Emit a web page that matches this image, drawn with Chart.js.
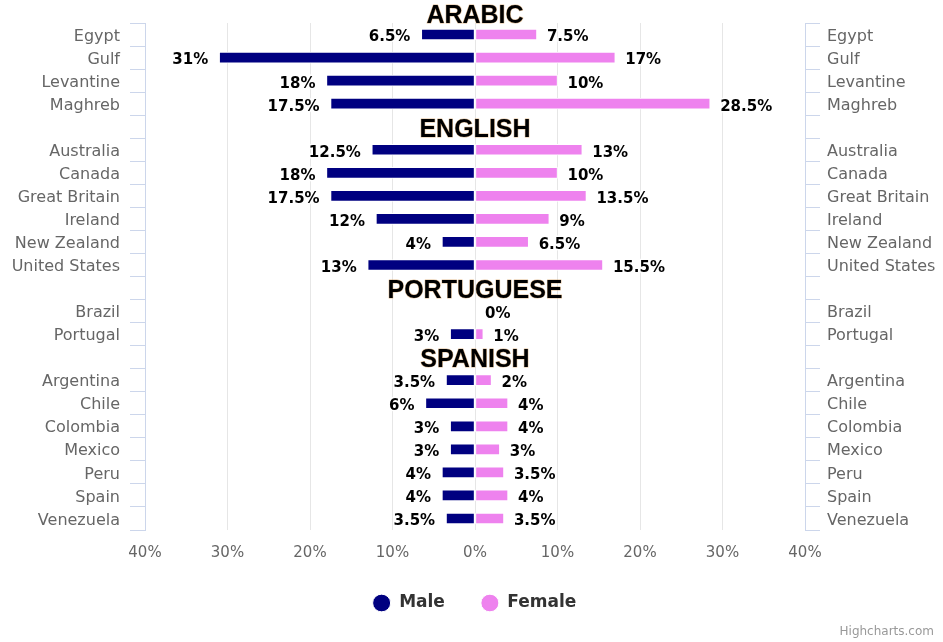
<!DOCTYPE html>
<html>
<head>
<meta charset="utf-8">
<script src="https://cdn.jsdelivr.net/npm/chart.js@4/dist/chart.umd.min.js"></script>
<style>
  html, body { margin: 0; padding: 0; background: #fff; }
  #wrap { width: 943px; height: 642px; }
</style>
</head>
<body>
<div id="wrap"><canvas id="myChart"></canvas></div>
<script>
// categories (blank rows hold the language headers)
const countries = ['Egypt', 'Gulf', 'Levantine', 'Maghreb', '',
  'Australia', 'Canada', 'Great Britain', 'Ireland', 'New Zealand', 'United States', '',
  'Brazil', 'Portugal', '',
  'Argentina', 'Chile', 'Colombia', 'Mexico', 'Peru', 'Spain', 'Venezuela'];

const maleValues = [6.5, 31, 18, 17.5, null,
  12.5, 18, 17.5, 12, 4, 13, null,
  null, 3, null,
  3.5, 6, 3, 3, 4, 4, 3.5];

const femaleValues = [7.5, 17, 10, 28.5, null,
  13, 10, 13.5, 9, 6.5, 15.5, null,
  0, 1, null,
  2, 4, 4, 3, 3.5, 4, 3.5];

const languages = ['ARABIC', 'ENGLISH', 'PORTUGUESE', 'SPANISH'];
const languageRows = [-1, 4, 11, 14]; // category index of each header row

const xTicks = [-40, -30, -20, -10, 0, 10, 20, 30, 40];

(() => {
  'use strict';

  const ctx = document.getElementById('myChart');

  // bar value labels, drawn at the bar ends
  const valueLabels = {
    id: 'valueLabels',
    afterDatasetsDraw(chart) {
      const c = chart.ctx;
      c.save();
      c.font = 'bold 15px "DejaVu Sans"';
      c.textBaseline = 'middle';
      c.lineJoin = 'round';
      c.lineWidth = 3;
      c.strokeStyle = '#fff';
      c.fillStyle = '#000';
      chart.data.datasets.forEach((ds, di) => {
        const meta = chart.getDatasetMeta(di);
        meta.data.forEach((bar, i) => {
          const v = ds.data[i];
          if (v === null || v === undefined) return;
          const txt = Math.abs(v) + '%';
          const isMale = di === 0;
          c.textAlign = isMale ? 'right' : 'left';
          const x = isMale ? bar.x - 11 : bar.x + 10;
          const y = bar.y + 3;
          c.strokeText(txt, x, y);
          c.fillText(txt, x, y);
        });
      });
      c.restore();
    }
  };

  // language headers in the blank rows + credits
  const headers = {
    id: 'headers',
    afterDraw(chart) {
      const c = chart.ctx;
      const yScale = chart.scales.y;
      const xScale = chart.scales.x;
      const cx = xScale.getPixelForValue(0);
      c.save();
      c.font = 'bold 25px "Liberation Sans"';
      c.textAlign = 'center';
      c.textBaseline = 'middle';
      c.lineJoin = 'round';
      languages.forEach((name, i) => {
        const y = yScale.getPixelForValue(languageRows[i]) + (i === 0 ? 5 : 3);
        c.lineWidth = 1;
        c.strokeStyle = 'rgba(190,110,20,0.45)';
        c.strokeText(name, cx, y);
        c.fillStyle = '#000';
        c.fillText(name, cx, y);
      });
      c.font = '12px "DejaVu Sans"';
      c.fillStyle = '#999';
      c.textAlign = 'right';
      c.fillText('Highcharts.com', 934, 632);
      c.restore();
    }
  };

  const yAxisBase = {
    type: 'category',
    labels: countries,
    stacked: true,
    offset: true,
    grid: {
      drawOnChartArea: false,
      drawTicks: true,
      tickLength: 15,
      color: '#ccd6eb',
      offset: true
    },
    border: { color: '#ccd6eb' },
    ticks: {
      color: '#666666',
      font: { family: '"DejaVu Sans"', size: 16 },
      labelOffset: 2,
      autoSkip: false
    }
  };

  new Chart(ctx, {
    type: 'bar',
    data: {
      labels: countries,
      datasets: [{
        label: 'Male',
        data: maleValues.map(v => v === null ? null : -v),
        backgroundColor: '#000080',
        borderColor: '#ffffff',
        borderWidth: 1,
        borderSkipped: false,
        barThickness: 11,
        yAxisID: 'y'
      }, {
        label: 'Female',
        data: femaleValues,
        backgroundColor: '#ee82ee',
        borderColor: '#ffffff',
        borderWidth: 1,
        borderSkipped: false,
        barThickness: 11,
        yAxisID: 'y'
      }]
    },
    options: {
      indexAxis: 'y',
      responsive: true,
      maintainAspectRatio: false,
      animation: false,
      layout: { padding: { top: 23, bottom: 20.5, left: 6, right: 0 } },
      plugins: {
        legend: {
          position: 'bottom',
          labels: {
            usePointStyle: true,
            pointStyle: 'circle',
            boxHeight: 12.5,
            pointStyleWidth: 18,
            padding: 36,
            color: '#333333',
            font: { family: '"DejaVu Sans"', size: 17, weight: 'bold' }
          }
        },
        tooltip: { enabled: false }
      },
      scales: {
        x: {
          stacked: true,
          min: xTicks[0],
          max: xTicks[xTicks.length - 1],
          afterBuildTicks(scale) {
            scale.ticks = xTicks.map(v => ({ value: v }));
          },
          afterFit(scale) { scale.height = 28.5; },
          grid: { color: '#e6e6e6', drawTicks: false },
          border: { display: false },
          ticks: {
            color: '#666666',
            padding: 15.5,
            font: { family: '"DejaVu Sans"', size: 15, lineHeight: 1 },
            callback: v => Math.abs(v) + '%'
          }
        },
        y: Object.assign({}, yAxisBase, {
          position: 'left',
          afterFit(scale) { scale.width = 139; },
          ticks: Object.assign({}, yAxisBase.ticks, { padding: 10 })
        }),
        y2: Object.assign({}, yAxisBase, {
          position: 'right',
          afterFit(scale) { scale.width = 138; },
          ticks: Object.assign({}, yAxisBase.ticks, { padding: 7 })
        })
      }
    },
    plugins: [valueLabels, headers]
  });
})();
</script>
</body>
</html>
